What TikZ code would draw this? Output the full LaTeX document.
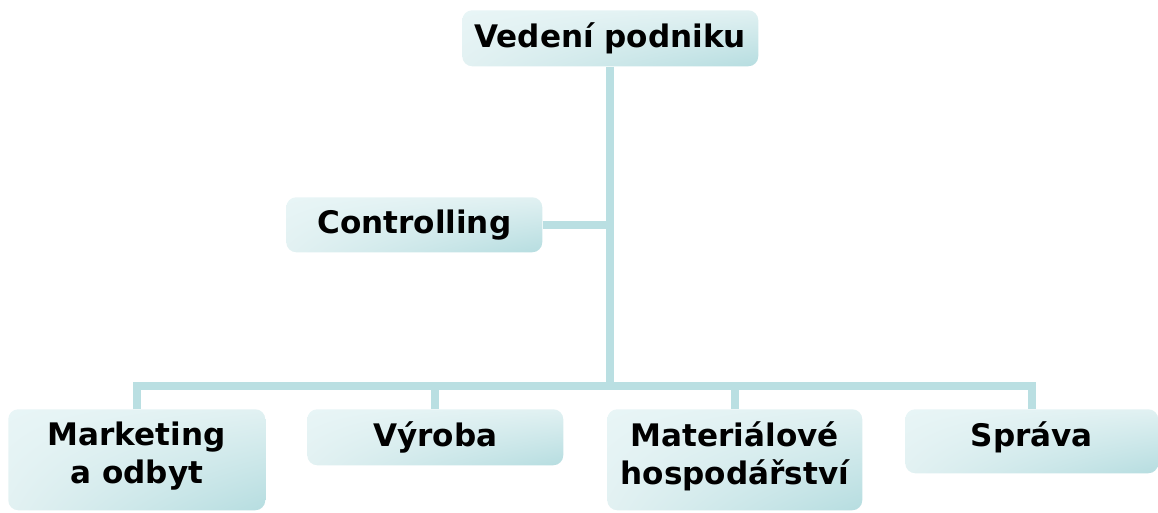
\documentclass[tikz,border=0pt]{standalone}
\usepackage{fontspec}
\setmainfont{DejaVu Sans}
\usetikzlibrary{shadings}
\definecolor{boxTL}{HTML}{E8F5F6}
\definecolor{boxTR}{HTML}{E1F1F2}
\definecolor{boxBL}{HTML}{E2F1F2}
\definecolor{boxBR}{HTML}{B6DDE0}
\definecolor{linkc}{HTML}{BADFE2}
\tikzset{
  orgbox/.style={shade, upper left=boxTL, upper right=boxTR, lower left=boxBL, lower right=boxBR,
    rounded corners=7.5pt, draw=none, inner sep=0pt, anchor=north west},
  orglbl/.style={font=\fontsize{23.3}{28.5}\selectfont\bfseries, align=center, inner sep=0pt, anchor=north, text=black},
  link/.style={draw=linkc, line width=6pt, line join=miter}
}
\begin{document}
\begin{tikzpicture}[x=0.75pt,y=-0.75pt]
\useasboundingbox (0,0) rectangle (1158,512);
% boxes
\node[orgbox, minimum width=222pt, minimum height=42pt] (vp) at (462,10) {};
\node[orgbox, minimum width=192pt, minimum height=41.25pt] (co) at (286,197) {};
\node[orgbox, minimum width=192.75pt, minimum height=75.75pt] (mk) at (8,409) {};
\node[orgbox, minimum width=192pt, minimum height=42pt] (vy) at (307,409) {};
\node[orgbox, minimum width=191.25pt, minimum height=75.75pt] (ma) at (607,409) {};
\node[orgbox, minimum width=189.75pt, minimum height=48pt] (sp) at (905,409) {};
% connectors
\coordinate (bar) at (0,385.5);
\draw[link] (vp.south) -- (vp.south |- bar);
\draw[link] (co.east) -- (co.east -| vp.south);
\draw[link] (mk.north) -- (mk.north |- bar) -- (sp.north |- bar) -- (sp.north);
\draw[link] (vy.north) -- (vy.north |- bar);
\draw[link] (ma.north) -- (ma.north |- bar);
% labels
\node[orglbl] (vpt) at ([yshift=-9.3pt]vp.north) {Vedení podniku};
\node[orglbl] (cot) at ([yshift=-9.3pt]co.north) {Controlling};
\node[orglbl] (mkt) at ([yshift=-9.3pt]mk.north) {Marketing\\a odbyt};
\node[orglbl] (vyt) at ([yshift=-9.3pt]vy.north) {Výroba};
\node[orglbl] (mat) at ([yshift=-9.3pt]ma.north) {Materiálové\\hospodářství};
\node[orglbl] (spt) at ([yshift=-9.3pt]sp.north) {Správa};
\end{tikzpicture}
\end{document}
